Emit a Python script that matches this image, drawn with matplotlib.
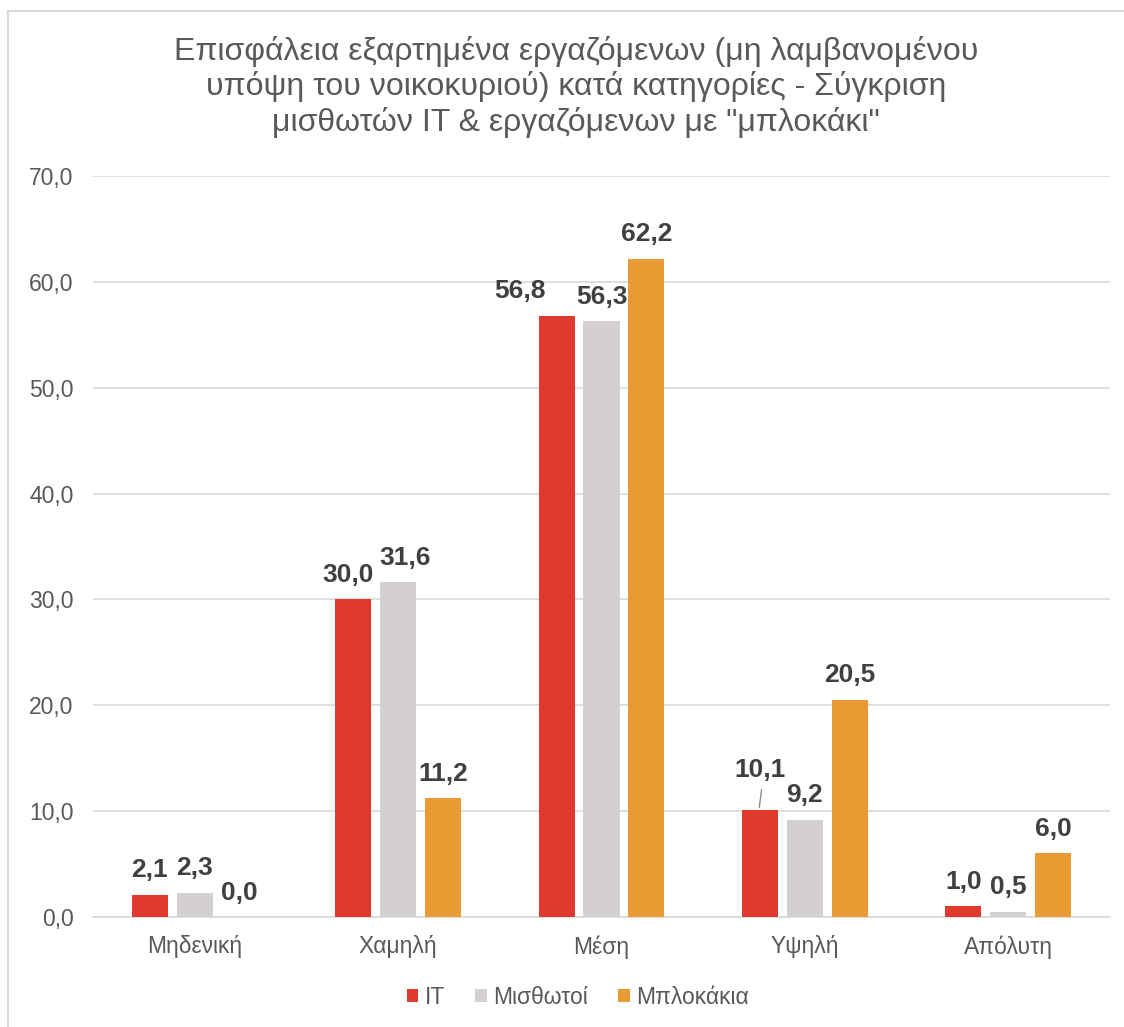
import matplotlib
matplotlib.use("Agg")
import matplotlib.pyplot as plt
from matplotlib.patches import Rectangle

plt.rcParams['font.family'] = ['Liberation Sans', 'DejaVu Sans']

categories = ["Μηδενική", "Χαμηλή", "Μέση", "Υψηλή", "Απόλυτη"]
series_names = ["IT", "Μισθωτοί", "Μπλοκάκια"]
it_vals = [2.1, 30.0, 56.8, 10.1, 1.0]
misthotoi_vals = [2.3, 31.6, 56.3, 9.2, 0.5]
blokakia_vals = [0.0, 11.2, 62.2, 20.5, 6.0]
yticks = [0, 10, 20, 30, 40, 50, 60, 70]

colors = ["#DF3A2E", "#D4CFD2", "#EA9A32"]
all_vals = [it_vals, misthotoi_vals, blokakia_vals]

# manual label offsets (points) for labels moved in the original
label_shift = {
    (0, 1): (-4, 0),
    (1, 1): (5, 0),
    (0, 2): (-26, 0),
    (0, 3): (0, 11),
}

W, H = 1124, 1027
fig = plt.figure(figsize=(W / 100, H / 100), dpi=100)
ax = fig.add_axes([93 / W, 1 - 917 / H, (1110 - 93) / W, (917 - 176) / H])

# border of chart area
fig.patches.append(Rectangle((8 / W, -0.1), 1.5, 1 - 11 / H + 0.1,
                             transform=fig.transFigure, fill=False,
                             edgecolor="#D9D9D9", linewidth=1.5))

step = 0.221
bw = 0.177
for j, vals in enumerate(all_vals):
    xs = [i + (j - 1) * step for i in range(len(categories))]
    ax.bar(xs, vals, width=bw, color=colors[j], label=series_names[j], zorder=3)
    for i, (x, v) in enumerate(zip(xs, vals)):
        dx, dy = label_shift.get((j, i), (0, 0))
        txt = f"{v:.1f}".replace(".", ",")
        ax.annotate(txt, xy=(x, v), xytext=(dx, 9 + dy), textcoords="offset points",
                    ha="center", va="bottom", fontsize=19, fontweight="bold",
                    color="#404040")
        if (j, i) == (0, 3):
            ax.annotate("", xy=(x - 0.005, v), xytext=(x + 0.01, v + 2.2),
                        arrowprops=dict(arrowstyle="-", color="#8C8C8C", lw=1))

ax.set_xlim(-0.5, len(categories) - 0.5)
ax.set_ylim(0, 70)
ax.set_yticks(yticks)
ax.set_yticklabels([f"{t:.1f}".replace(".", ",") for t in yticks])
ax.set_xticks(range(len(categories)))
ax.set_xticklabels(categories)
ax.tick_params(axis="both", length=0, labelsize=16.5, colors="#595959")
ax.tick_params(axis="x", pad=13)
ax.tick_params(axis="y", pad=14)
ax.yaxis.grid(True, color="#D9D9D9", linewidth=1.2, zorder=0)
ax.set_axisbelow(True)
for s in ["top", "right", "left"]:
    ax.spines[s].set_visible(False)
ax.spines["bottom"].set_color("#D9D9D9")
ax.spines["bottom"].set_linewidth(1.2)

fig.text(576 / W, 1 - 87 / H,
         "Επισφάλεια εξαρτημένα εργαζόμενων (μη λαμβανομένου\n"
         "υπόψη του νοικοκυριού) κατά κατηγορίες - Σύγκριση\n"
         "μισθωτών IT & εργαζόμενων με \"μπλοκάκι\"",
         ha="center", va="center", fontsize=23, color="#595959", linespacing=1.2)

fig.legend(loc="center", bbox_to_anchor=(578 / W, 1 - 997 / H), ncol=3, frameon=False,
           fontsize=16.5, labelcolor="#595959", handlelength=0.5, handleheight=0.5,
           handletextpad=0.3, columnspacing=1.3)

fig.savefig("out.png", dpi=100)
